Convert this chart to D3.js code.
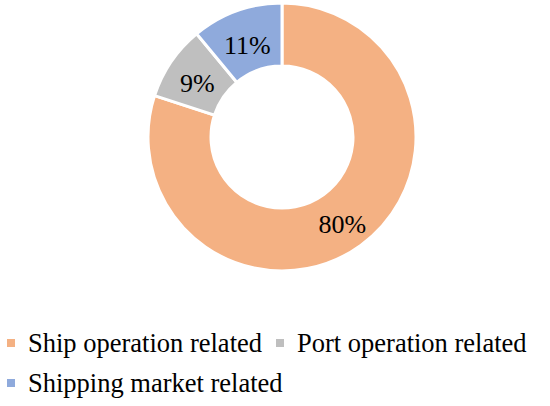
<!DOCTYPE html>
<html><head><meta charset="utf-8">
<script src="https://cdn.jsdelivr.net/npm/d3@7"></script>
</head><body style="margin:0">
<svg id="c" width="550" height="406" font-family="Liberation Serif"></svg>
<script>
const categories = ["Ship operation related", "Port operation related", "Shipping market related"];
const values = [80, 9, 11];
const labels = ["80%", "9%", "11%"];
const colors = ["#F4B183", "#BFBFBF", "#8FAADC"];

const FONT = "Liberation Serif";
const svg = d3.select("#c");
const cx = 282, cy = 137, rOut = 134, rIn = 71;
const g = svg.append("g").attr("transform", `translate(${cx},${cy})`);
const pie = d3.pie().sort(null).value(d => d)(values);
const arc = d3.arc().innerRadius(rIn).outerRadius(rOut);
g.selectAll("path").data(pie).enter().append("path")
  .attr("d", arc).attr("fill", (d,i) => colors[i])
  .attr("stroke", "#fff").attr("stroke-width", 3);
const labelArc = d3.arc().innerRadius((rIn+rOut)/2).outerRadius((rIn+rOut)/2);
g.selectAll("text").data(pie).enter().append("text")
  .attr("transform", d => `translate(${labelArc.centroid(d)})`)
  .attr("text-anchor", "middle").attr("dy", "0.5em")
  .attr("font-family", FONT).attr("font-size", 26).attr("fill", "#000")
  .text((d,i) => labels[i]);

const leg = [
  {i:0, x:7, y:352},
  {i:1, x:276, y:352},
  {i:2, x:7, y:392}
];
leg.forEach(p => {
  svg.append("rect").attr("x", p.x).attr("y", p.y-13).attr("width", 8).attr("height", 8).attr("fill", colors[p.i]);
  svg.append("text").attr("x", p.x+21).attr("y", p.y)
    .attr("font-family", FONT).attr("font-size", 26.5).attr("fill", "#000")
    .text(categories[p.i]);
});
</script>
</body></html>
